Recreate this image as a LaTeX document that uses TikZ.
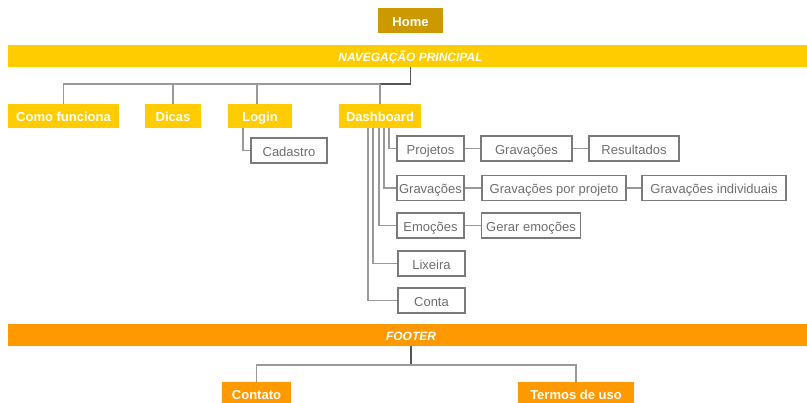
\documentclass[tikz,border=0pt]{standalone}
\usepackage{fontspec}
\setmainfont{Liberation Sans}
\begin{document}
\definecolor{navyellow}{HTML}{FFCC00}
\definecolor{homegold}{HTML}{CC9900}
\definecolor{footorange}{HTML}{FF9900}
\definecolor{boxline}{HTML}{7A7A7A}
\definecolor{boxtext}{HTML}{6E6E6E}
\definecolor{wire}{HTML}{999999}
\definecolor{darkwire}{HTML}{555555}
\begin{tikzpicture}[x=1pt,y=-1pt,
  solid/.style={fill=#1,draw=none,text=white,font=\bfseries\fontsize{13}{15}\selectfont,inner sep=0pt,text height=12.5pt,text depth=0.5pt},
  bar/.style={fill=#1,draw=none,inner sep=0pt,minimum height=22pt},
  barlabel/.style={text=white,font=\bfseries\itshape\fontsize{12}{14}\selectfont,inner sep=0pt,text height=9pt,text depth=2.5pt},
  page/.style={draw=boxline,line width=1.1pt,fill=white,text=boxtext,font=\fontsize{13}{15}\selectfont,inner sep=0pt,minimum height=25pt,text height=12.5pt,text depth=0.5pt},
  wired/.style={draw=wire,line width=1.1pt},
  darkwired/.style={draw=darkwire,line width=1.1pt}]
\useasboundingbox (0,0) rectangle (807,403);

% top level
\node[solid=homegold,minimum width=65pt,minimum height=25pt] (home) at (410.5,20.5) {Home};
\node[bar=navyellow,minimum width=799pt] (nav) at (407.5,56) {};
\node[barlabel] (navlabel) at (410.5,58) {NAVEGAÇÃO PRINCIPAL};

% main navigation
\node[solid=navyellow,minimum width=111pt,minimum height=24pt] (como) at (63.5,116) {Como funciona};
\node[solid=navyellow,minimum width=56pt,minimum height=24pt] (dicas) at (173,116) {Dicas};
\node[solid=navyellow,minimum width=64pt,minimum height=24pt] (login) at (260,116) {Login};
\node[solid=navyellow,minimum width=82pt,minimum height=24pt] (dash) at (380,116) {Dashboard};

% sub pages
\node[page,minimum width=76pt] (cadastro) at (289,150.5) {Cadastro};
\node[page,minimum width=67pt] (projetos) at (430.5,148.5) {Projetos};
\node[page,minimum width=91pt] (gravB) at (526.5,148.5) {Gravações};
\node[page,minimum width=90pt] (result) at (634,148.5) {Resultados};
\node[page,minimum width=67pt] (grav) at (430.5,188) {Gravações};
\node[page,minimum width=144pt] (gravproj) at (554,188) {Gravações por projeto};
\node[page,minimum width=144pt] (gravind) at (714,188) {Gravações individuais};
\node[page,minimum width=67pt] (emo) at (430.5,225.5) {Emoções};
\node[page,minimum width=99pt] (gerar) at (531,225.5) {Gerar emoções};
\node[page,minimum width=67pt] (lixeira) at (431.5,263.5) {Lixeira};
\node[page,minimum width=67pt] (conta) at (431.5,300.5) {Conta};

% footer
\node[bar=footorange,minimum width=799pt] (footer) at (407.5,335) {};
\node[barlabel] (footlabel) at (411,337) {FOOTER};
\node[solid=footorange,minimum width=69pt,minimum height=24pt] (contato) at (256.5,394) {Contato};
\node[solid=footorange,minimum width=116pt,minimum height=24pt] (termos) at (576,394) {Termos de uso};

% connectors: main navigation
\coordinate (bus) at (0,84);
\draw[darkwired] (nav.south -| home) -- (bus -| home) -- (bus -| dash);
\draw[wired] (bus -| dash) -- (bus -| como) -- (como.north);
\draw[wired] (bus -| dicas) -- (dicas.north);
\draw[wired] ([xshift=-3pt]bus -| login) -- ([xshift=-3pt]login.north);
\draw[wired] (bus -| dash) -- (dash.north);

% connectors: login and dashboard
\draw[wired] ([xshift=-17pt]login.south) |- (cadastro.west);
\draw[wired] ([xshift=9pt]dash.south) |- (projetos.west);
\draw[wired] ([xshift=4pt]dash.south) |- (grav.west);
\draw[wired] ([xshift=-1pt]dash.south) |- (emo.west);
\draw[wired] ([xshift=-7pt]dash.south) |- (lixeira.west);
\draw[wired] ([xshift=-12pt]dash.south) |- (conta.west);
\draw[wired] (projetos.east) -- (gravB.west);
\draw[wired] (gravB.east) -- (result.west);
\draw[wired] (grav.east) -- (gravproj.west);
\draw[wired] (gravproj.east) -- (gravind.west);
\draw[wired] (emo.east) -- (gerar.west);

% connectors: footer
\coordinate (fbus) at (0,365);
\draw[darkwired] (footer.south -| footlabel) -- (fbus -| footlabel);
\draw[wired] (contato.north) -- (fbus -| contato) -- (fbus -| termos) -- (termos.north);
\end{tikzpicture}
\end{document}
